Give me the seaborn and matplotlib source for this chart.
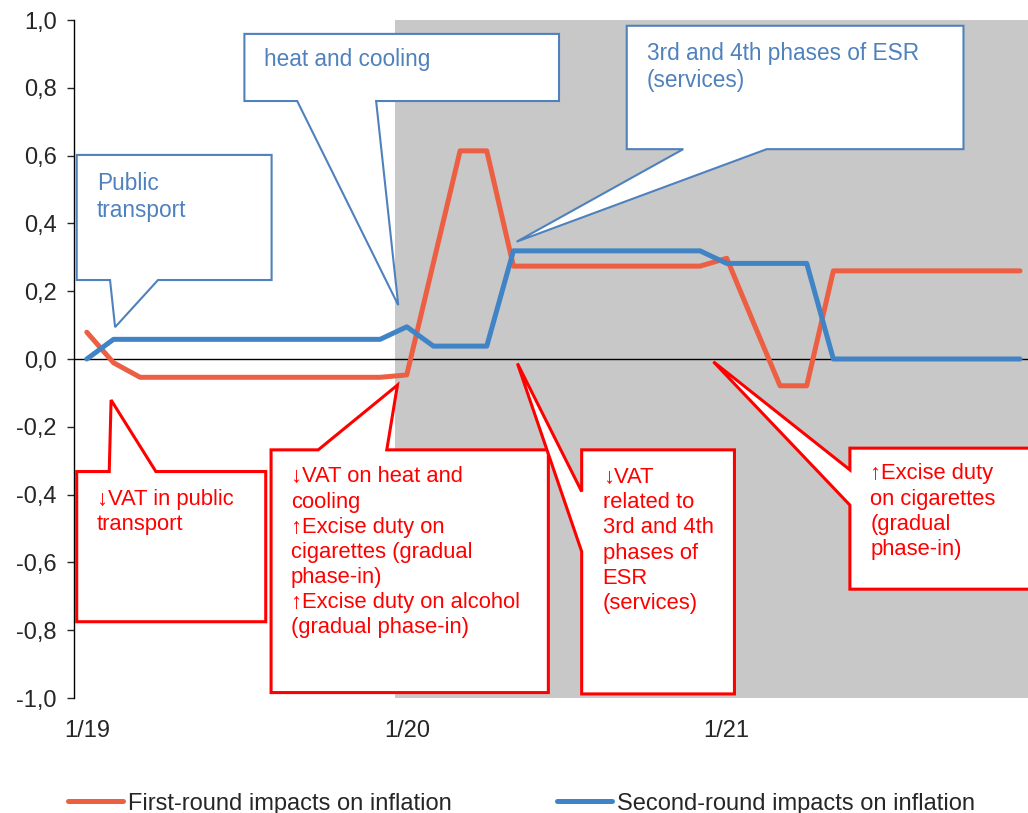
import matplotlib
matplotlib.use("Agg")
import matplotlib.pyplot as plt
from matplotlib.patches import Polygon
import pandas as pd
import seaborn as sns

# Monthly impacts on inflation, January 2019 to December 2021 (percentage points)
months = list(range(36))
first_round = [0.079, -0.011, -0.054, -0.054, -0.054, -0.054, -0.054, -0.054, -0.054, -0.054, -0.054, -0.054,
               -0.047, 0.284, 0.614, 0.614, 0.274, 0.274, 0.274, 0.274, 0.274, 0.274, 0.274, 0.274,
               0.297, 0.108, -0.079, -0.079, 0.260, 0.260, 0.260, 0.260, 0.260, 0.260, 0.260, 0.260]
second_round = [0.000, 0.058, 0.058, 0.058, 0.058, 0.058, 0.058, 0.058, 0.058, 0.058, 0.058, 0.058,
                0.095, 0.038, 0.038, 0.038, 0.319, 0.319, 0.319, 0.319, 0.319, 0.319, 0.319, 0.319,
                0.282, 0.282, 0.282, 0.282, 0.000, 0.000, 0.000, 0.000, 0.000, 0.000, 0.000, 0.000]
series_names = ["First-round impacts on inflation", "Second-round impacts on inflation"]
tick_months = [0, 12, 24]
tick_labels = ["1/19", "1/20", "1/21"]
y_ticks = [-1.0, -0.8, -0.6, -0.4, -0.2, 0.0, 0.2, 0.4, 0.6, 0.8, 1.0]
shade_start = 11.55

df = pd.concat([
    pd.DataFrame({"month": months, "impact": first_round, "series": series_names[0]}),
    pd.DataFrame({"month": months, "impact": second_round, "series": series_names[1]}),
])

sns.set_style("white")
plt.rcParams["font.family"] = ["Liberation Sans", "DejaVu Sans"]

RED_LINE = "#EC5F43"
BLUE_LINE = "#4184C6"
BLUE_NOTE = "#4F81BD"
RED_NOTE = "#FF0000"

fig = plt.figure(figsize=(10.28, 8.13), dpi=100)
ax = fig.add_axes([73.5 / 1028, 1 - 698 / 813, 1 - 73.5 / 1028, (698 - 20) / 813])

ax.axvspan(shade_start, 40, color="#C8C8C8", lw=0, zorder=0)
ax.axhline(0, color="black", lw=1.0, zorder=1)

sns.lineplot(data=df, x="month", y="impact", hue="series",
             palette=[RED_LINE, BLUE_LINE], linewidth=3.6, ax=ax, zorder=3,
             solid_capstyle="round", solid_joinstyle="round")

ax.set_xlim(-0.5, 35.3)
ax.set_ylim(-1.0, 1.0)
ax.set_xticks(tick_months)
ax.set_xticklabels(tick_labels)
ax.set_yticks(y_ticks)
ax.set_yticklabels([f"{v:.1f}".replace(".", ",") for v in y_ticks])
ax.tick_params(axis="x", length=0, pad=16, labelsize=17)
ax.tick_params(axis="y", direction="out", length=5, width=1, pad=7, labelsize=17, left=True)
ax.set_xlabel("")
ax.set_ylabel("")
for side in ["top", "right", "bottom"]:
    ax.spines[side].set_visible(False)
ax.spines["left"].set_color("black")
ax.spines["left"].set_linewidth(1.0)


def callout(box, side, base, tip, color, lw):
    left, right, top, bottom = box
    b1, b2 = base
    if side == "bottom":
        pts = [(left, top), (right, top), (right, bottom), (b2, bottom), tip, (b1, bottom), (left, bottom)]
    elif side == "top":
        pts = [(left, top), (b1, top), tip, (b2, top), (right, top), (right, bottom), (left, bottom)]
    else:  # pointer leaving the left edge; base given as (upper, lower)
        pts = [(left, top), (right, top), (right, bottom), (left, bottom), (left, b2), tip, (left, b1)]
    ax.add_patch(Polygon(pts, closed=True, facecolor="white", edgecolor=color,
                         lw=lw, joinstyle="miter", zorder=5))


def note(x, y, text, color, size=15.8):
    ax.text(x, y, text, color=color, fontsize=size, ha="left", va="top",
            linespacing=1.26, zorder=6)


# Second-round notes (blue)
callout((-0.38, 6.93, 0.602, 0.233), "bottom", (0.87, 2.67), (1.06, 0.094), BLUE_NOTE, 1.5)
note(0.38, 0.553, "Public\ntransport", BLUE_NOTE, 16.3)

callout((5.91, 17.71, 0.959, 0.761), "bottom", (7.89, 10.85), (11.68, 0.159), BLUE_NOTE, 1.5)
note(6.66, 0.917, "heat and cooling", BLUE_NOTE, 16.3)

callout((20.25, 32.88, 0.983, 0.619), "bottom", (22.37, 25.5), (16.12, 0.346), BLUE_NOTE, 1.5)
note(21.0, 0.936, "3rd and 4th phases of ESR\n(services)", BLUE_NOTE, 16.3)

# First-round notes (red)
callout((-0.38, 6.71, -0.332, -0.775), "top", (0.84, 2.59), (0.91, -0.121), RED_NOTE, 2.2)
note(0.37, -0.383, "\u2193VAT in public\ntransport", RED_NOTE)

callout((6.91, 17.31, -0.268, -0.984), "top", (8.68, 11.25), (11.65, -0.077), RED_NOTE, 2.2)
note(7.66, -0.317,
     "\u2193VAT on heat and\ncooling\n\u2191Excise duty on\ncigarettes (gradual\nphase-in)\n"
     "\u2191Excise duty on alcohol\n(gradual phase-in)", RED_NOTE)

callout((18.56, 24.29, -0.268, -0.988), "left", (-0.391, -0.568), (16.15, -0.013), RED_NOTE, 2.2)
note(19.35, -0.319, "\u2193VAT\nrelated to\n3rd and 4th\nphases of\nESR\n(services)", RED_NOTE)

callout((28.62, 35.8, -0.263, -0.679), "left", (-0.327, -0.431), (23.5, -0.008), RED_NOTE, 2.2)
note(29.38, -0.308, "\u2191Excise duty\non cigarettes\n(gradual\nphase-in)", RED_NOTE)

handles, labels = ax.get_legend_handles_labels()
ax.get_legend().remove()
leg = fig.legend(handles, labels, loc="center left", bbox_to_anchor=(68 / 1028, 1 - 803.5 / 813),
                 ncol=2, frameon=False, fontsize=17, handlelength=2.33, handletextpad=0.22,
                 columnspacing=4.45, borderpad=0, borderaxespad=0)
for line in leg.get_lines():
    line.set_linewidth(3.6)

fig.savefig("out.png", dpi=100)
